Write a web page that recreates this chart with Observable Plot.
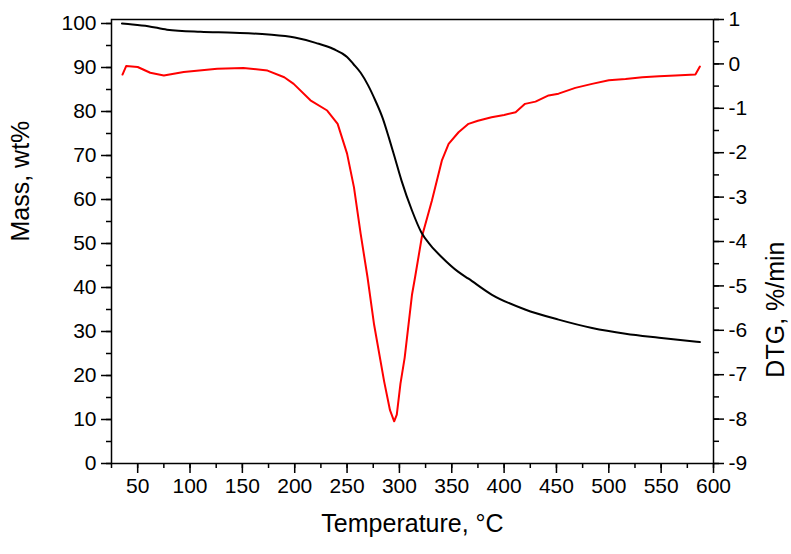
<!DOCTYPE html>
<html><head><meta charset="utf-8">
<script src="https://cdn.jsdelivr.net/npm/d3@7"></script>
<script src="https://cdn.jsdelivr.net/npm/@observablehq/plot@0.6"></script>
<style>body{margin:0;background:#fff}</style>
</head><body><div id="chart"></div>
<script>
// Mass (TG) curve, left axis
const massTemp   = [35, 45, 60, 78, 110, 142, 175, 200, 220, 237, 250, 256, 263, 270, 277, 284, 290, 295, 302, 312, 321, 330, 340, 356, 366, 388, 420, 452, 484, 516, 548, 587];
const massValues = [100, 99.8, 99.4, 98.6, 98.1, 97.9, 97.5, 96.8, 95.6, 94.2, 92.4, 90.8, 88.8, 86, 82.5, 78.5, 74, 70, 64.3, 57.5, 52.5, 49.5, 47, 43.6, 42, 38.4, 35, 32.7, 30.8, 29.5, 28.6, 27.6];
// DTG curve, right axis
const dtgTemp   = [35.5, 39, 50, 62, 75, 94, 126, 151, 174, 190, 199, 215, 231, 241, 250, 256.6, 263, 269.5, 275.8, 285.4, 291, 295, 297.5, 301, 305, 312, 315, 321.4, 331, 340.5, 347, 356.5, 366, 375, 388, 400, 411, 420, 430, 442.5, 452, 468, 484, 500, 516, 532, 548, 563.5, 582.7, 587];
const dtgValues = [-0.24, -0.05, -0.07, -0.2, -0.26, -0.18, -0.11, -0.09, -0.15, -0.3, -0.45, -0.82, -1.05, -1.35, -2.02, -2.78, -3.83, -4.8, -5.87, -7.15, -7.8, -8.05, -7.9, -7.2, -6.62, -5.2, -4.8, -3.9, -3.08, -2.18, -1.8, -1.54, -1.35, -1.28, -1.2, -1.15, -1.09, -0.9, -0.85, -0.71, -0.67, -0.54, -0.45, -0.37, -0.34, -0.3, -0.28, -0.26, -0.24, -0.06];

const xTicks = [50, 100, 150, 200, 250, 300, 350, 400, 450, 500, 550, 600];
const xMinor = d3.range(25, 601, 25);
const massTicks = [0, 10, 20, 30, 40, 50, 60, 70, 80, 90, 100];
const massMinor = d3.range(0, 101, 5);
const dtgTicks = [-9, -8, -7, -6, -5, -4, -3, -2, -1, 0, 1];
const dtgMinor = d3.range(-9, 1.01, 0.5);

const TOP = 100.909;       // mass value at the frame top (DTG = 1)
const k = TOP / 10;
const dtgToY = d => (d + 9) * k;
const yToDtg = v => Math.round(v / k - 9);

const massData = massTemp.map((t, i) => ({t, v: massValues[i]}));
const dtgData = dtgTemp.map((t, i) => ({t, v: dtgToY(dtgValues[i])}));

const font = "'Liberation Sans', Arial, sans-serif";
const sw = 1.5;
const tickFont = 21;
const labelFont = 25;
const plot = Plot.plot({
  width: 791, height: 554,
  marginLeft: 111, marginRight: 78, marginTop: 19, marginBottom: 91,
  style: {fontFamily: font, fontSize: tickFont + "px", color: "#000", background: "#fff"},
  x: {domain: [25, 600]},
  y: {domain: [0, TOP]},
  marks: [
    Plot.line(dtgData, {x: "t", y: "v", stroke: "#ff0000", strokeWidth: 2}),
    Plot.line(massData, {x: "t", y: "v", stroke: "#000", strokeWidth: 2, curve: "monotone-x"}),
    Plot.frame({stroke: "#000", strokeWidth: sw}),
    Plot.axisX({ticks: xMinor, tickSize: 5, tickFormat: () => "", label: null, strokeWidth: sw}),
    Plot.axisX({ticks: xTicks, tickSize: 10, tickPadding: 5, fontSize: tickFont, label: null, strokeWidth: sw}),
    Plot.axisY({ticks: massMinor, tickSize: 5, tickFormat: () => "", label: null, strokeWidth: sw}),
    Plot.axisY({ticks: massTicks, tickSize: 10, tickPadding: 5, fontSize: tickFont, label: null, strokeWidth: sw}),
    Plot.axisY({anchor: "right", ticks: dtgMinor.map(dtgToY), tickSize: 5, tickFormat: () => "", label: null, strokeWidth: sw}),
    Plot.axisY({anchor: "right", ticks: dtgTicks.map(dtgToY), tickSize: 10, tickPadding: 5, fontSize: tickFont, label: null, strokeWidth: sw,
      tickFormat: v => String(yToDtg(v))}),
    Plot.text([0], {frameAnchor: "bottom", dy: 68, text: () => "Temperature, °C", fontSize: labelFont}),
    Plot.text([0], {frameAnchor: "left", dx: -91, rotate: -90, text: () => "Mass, wt%", fontSize: labelFont}),
    Plot.text([0], {frameAnchor: "right", dx: 62, rotate: -90, text: () => "DTG, %/min", fontSize: labelFont})
  ]
});
document.getElementById("chart").appendChild(plot);
</script>
</body></html>
